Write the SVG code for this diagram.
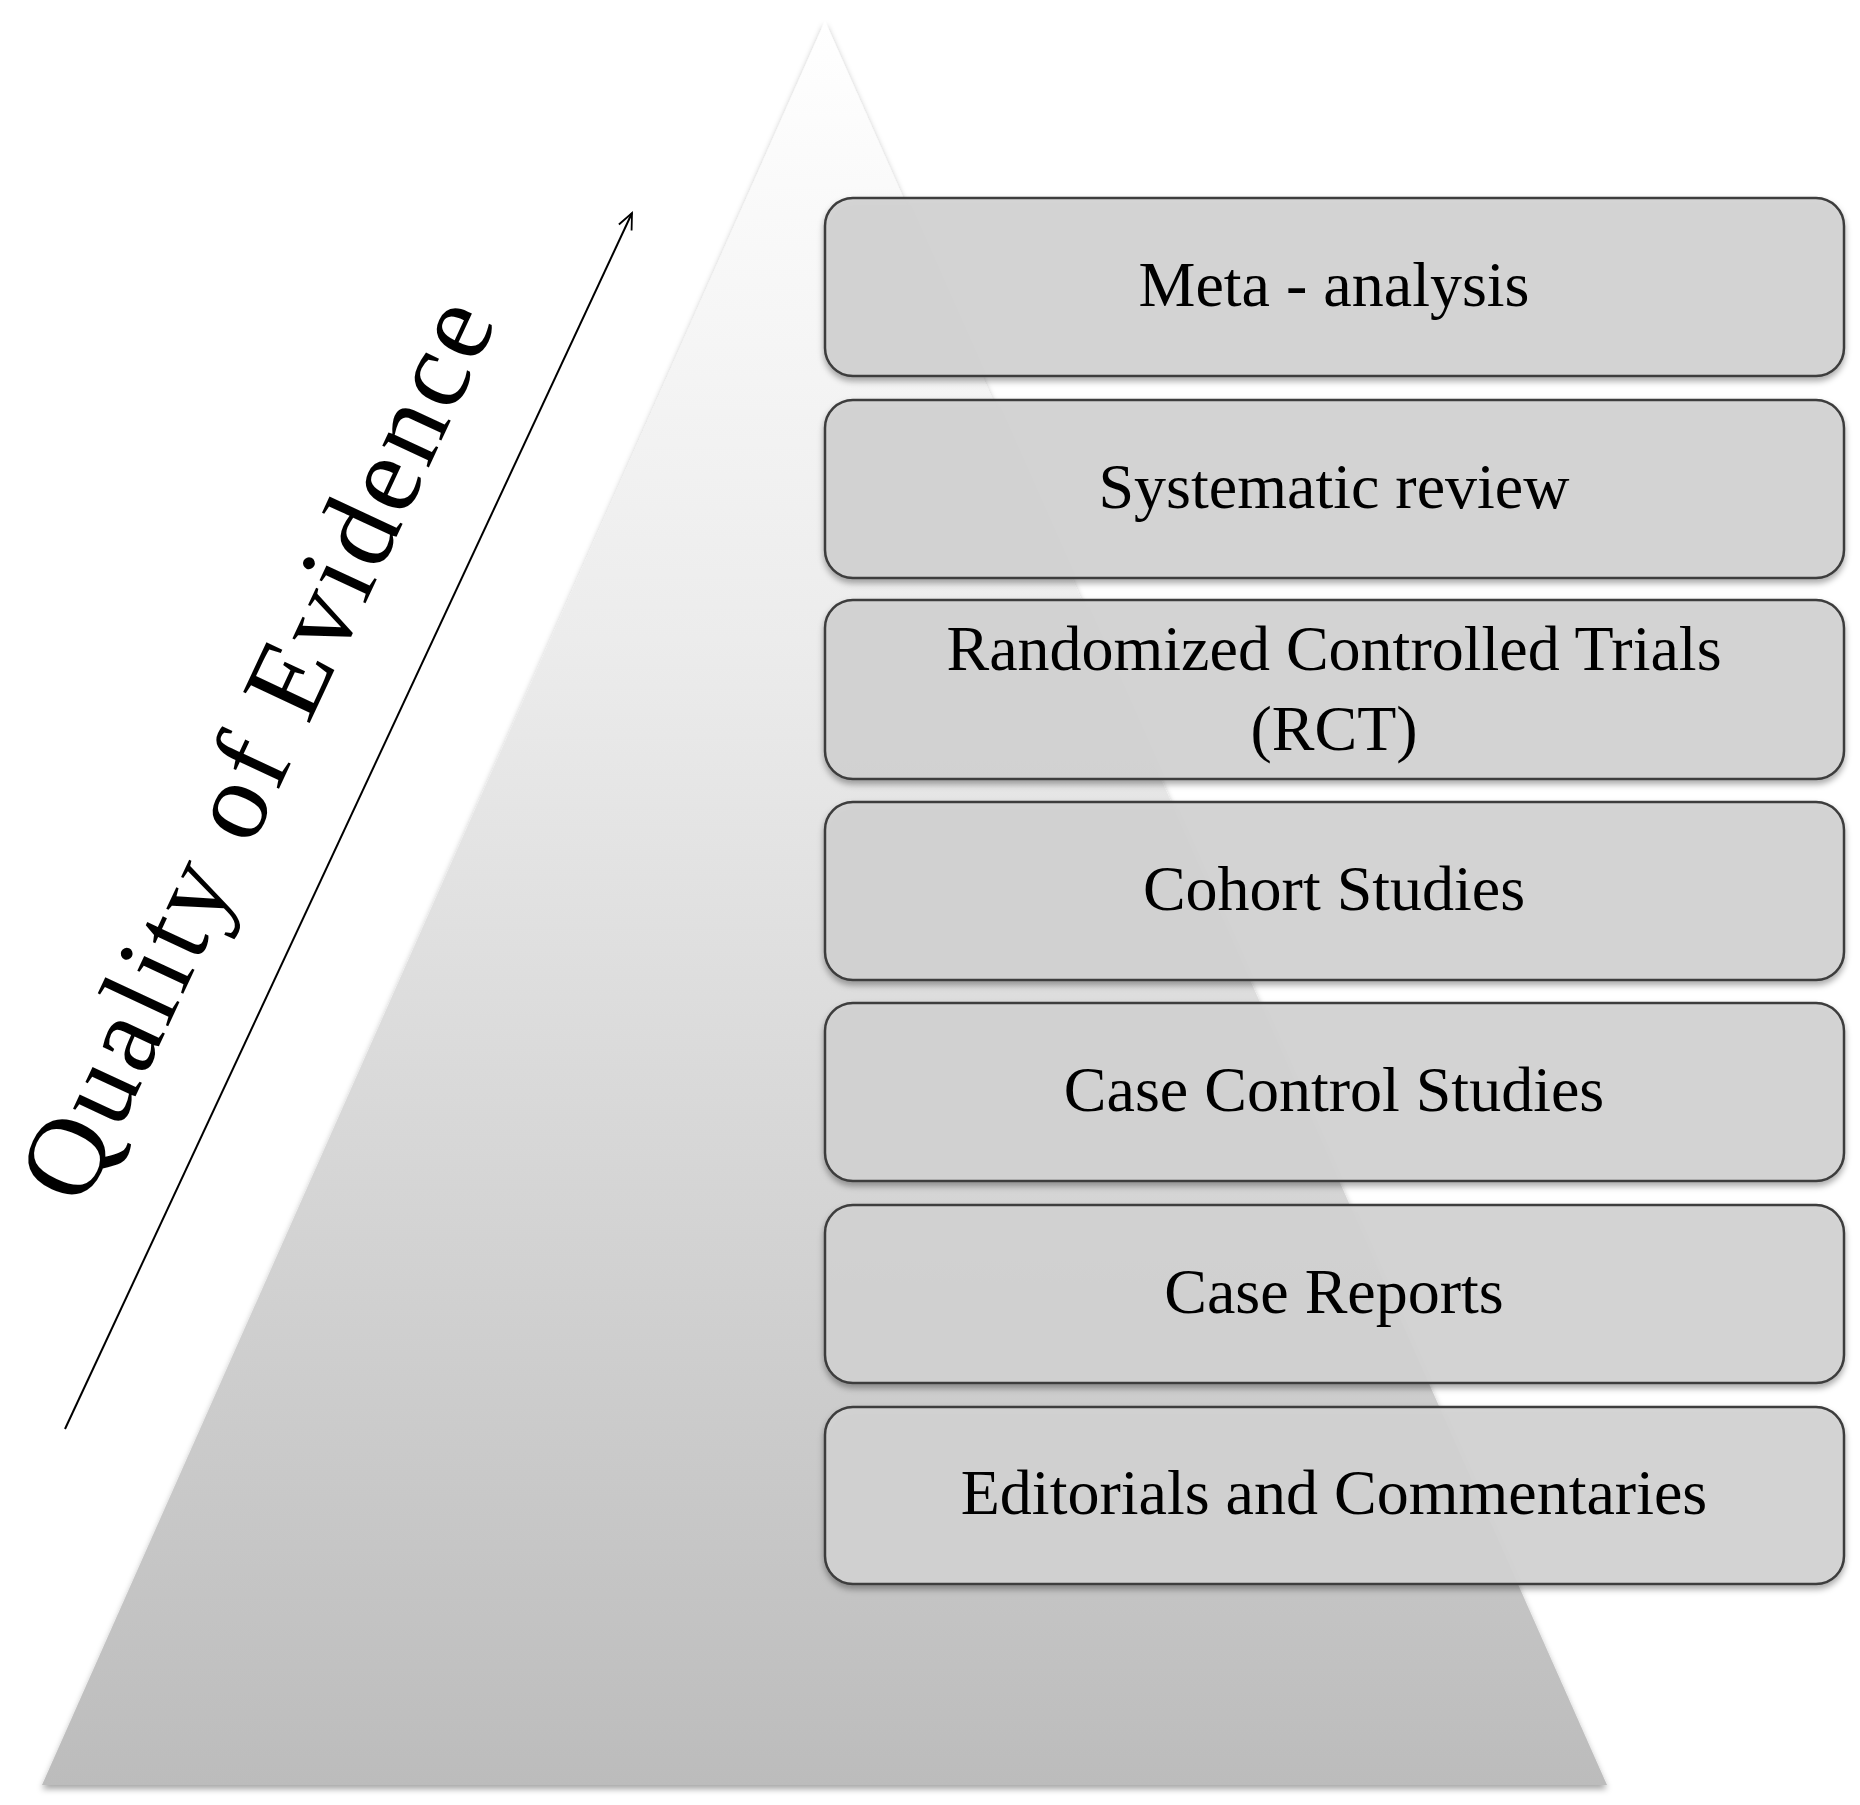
<svg xmlns="http://www.w3.org/2000/svg" width="1860" height="1805" viewBox="0 0 1860 1805">
<defs>
<linearGradient id="tri" x1="0" y1="0" x2="0" y2="1"><stop offset="0" stop-color="#ffffff"/><stop offset="0.35" stop-color="#ececec"/><stop offset="1" stop-color="#bcbcbc"/></linearGradient>
<filter id="sh" x="-5%" y="-5%" width="110%" height="115%"><feDropShadow dx="0" dy="4" stdDeviation="3" flood-color="#000" flood-opacity="0.35"/></filter>
<marker id="ah" viewBox="0 0 20 20" refX="18" refY="10" markerWidth="20" markerHeight="20" markerUnits="userSpaceOnUse" orient="auto"><path d="M2,3 L18,10 L2,17" fill="none" stroke="#000" stroke-width="1.8"/></marker>
</defs>
<style>
.box{fill:#d3d3d3;fill-opacity:0.93;stroke:#3c3c3c;stroke-width:2.5;filter:url(#sh)}
.t{font-family:"Liberation Serif","DejaVu Serif",serif;font-size:64px;fill:#000;text-anchor:middle}
</style>
<rect width="1860" height="1805" fill="#fff"/>
<polygon points="825,21 1607,1785 42,1785" fill="url(#tri)" filter="url(#sh)"/>
<g id="connectors"><line x1="65" y1="1429" x2="632" y2="213" stroke="#000" stroke-width="2" marker-end="url(#ah)"/></g>
<g id="axis-label"><text class="t" style="font-size:112px" transform="translate(290,765) rotate(-65)" textLength="980" x="0" y="0">Quality of Evidence</text></g>
<g id="n1"><rect class="box" x="825" y="198" width="1019" height="178" rx="28"/><text class="t" x="1334" y="306">Meta - analysis</text></g>
<g id="n2"><rect class="box" x="825" y="400" width="1019" height="178" rx="28"/><text class="t" x="1334" y="508">Systematic review</text></g>
<g id="n3"><rect class="box" x="825" y="600" width="1019" height="179" rx="28"/><text class="t" x="1334" y="670">Randomized Controlled Trials</text><text class="t" x="1334" y="750">(RCT)</text></g>
<g id="n4"><rect class="box" x="825" y="802" width="1019" height="178" rx="28"/><text class="t" x="1334" y="910">Cohort Studies</text></g>
<g id="n5"><rect class="box" x="825" y="1003" width="1019" height="178" rx="28"/><text class="t" x="1334" y="1111">Case Control Studies</text></g>
<g id="n6"><rect class="box" x="825" y="1205" width="1019" height="178" rx="28"/><text class="t" x="1334" y="1313">Case Reports</text></g>
<g id="n7"><rect class="box" x="825" y="1407" width="1019" height="177" rx="28"/><text class="t" x="1334" y="1514">Editorials and Commentaries</text></g>
</svg>
